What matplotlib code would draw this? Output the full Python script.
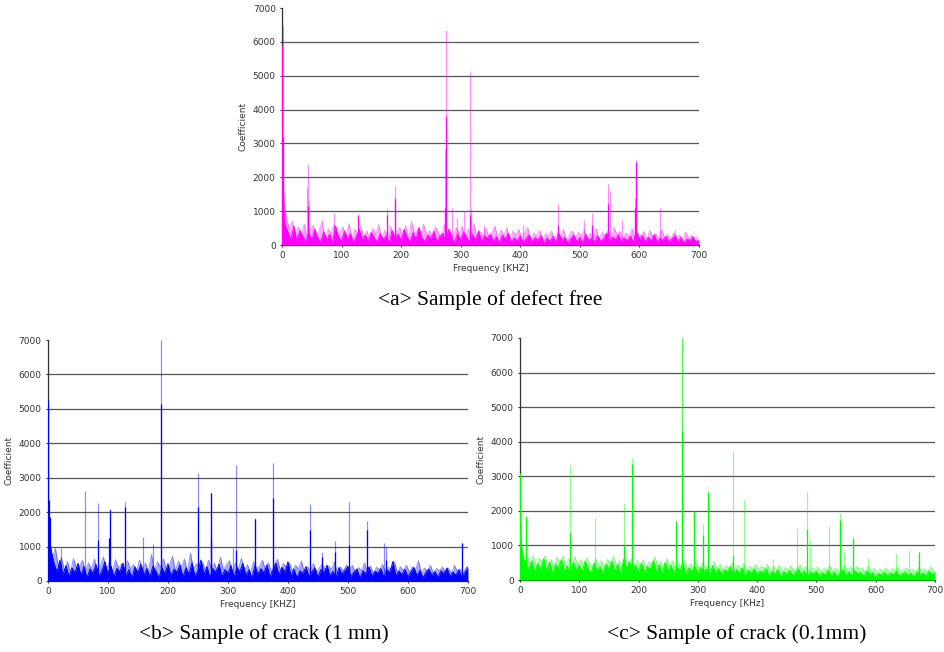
import numpy as np
import matplotlib.pyplot as plt

# sample grids (kHz): the dark trace and the pale trace are read at offset points
freq_dark = np.arange(0, 701, 5).astype(float)
freq_light = np.arange(2.5, 700, 5)

# <a> defect free
a_dark_noise = [1500, 620, 380, 150, 560, 120, 420, 260, 80, 350,
                140, 480, 210, 90, 390, 170, 310, 60, 560, 230,
                120, 410, 180, 330, 70, 260, 450, 150, 290, 110,
                380, 200, 90, 340, 160, 270, 60, 430, 190, 320,
                130, 460, 240, 80, 370, 150, 520, 210, 100, 300,
                180, 410, 90, 260, 350, 120, 470, 200, 80, 330,
                150, 380, 230, 70, 310, 140, 420, 90, 270, 190,
                320, 100, 240, 60, 290, 170, 350, 80, 210, 130,
                260, 70, 190, 300, 90, 220, 140, 280, 60, 200,
                110, 250, 80, 340, 150, 230, 70, 190, 290, 100,
                220, 60, 310, 140, 200, 90, 270, 120, 180, 350,
                90, 240, 150, 300, 70, 210, 130, 260, 80, 420,
                160, 280, 90, 230, 120, 310, 70, 200, 140, 250,
                80, 190, 270, 100, 220, 60, 180, 130, 240, 90,
                150]
a_light_noise = [1300, 820, 460, 700, 230, 540, 310, 620, 180, 450,
                 590, 260, 410, 720, 150, 480, 330, 600, 200, 390,
                 530, 240, 640, 180, 470, 310, 560, 220, 420, 150,
                 490, 300, 610, 170, 440, 250, 550, 180, 400, 520,
                 270, 580, 190, 700, 340, 460, 230, 620, 310, 420,
                 250, 540, 380, 160, 600, 290, 450, 210, 510, 330,
                 560, 200, 470, 320, 640, 180, 400, 270, 500, 230,
                 380, 560, 190, 440, 280, 520, 150, 410, 300, 460,
                 210, 380, 520, 160, 350, 270, 430, 190, 330, 250,
                 410, 170, 360, 240, 470, 150, 310, 420, 200, 380,
                 260, 450, 180, 340, 230, 490, 160, 370, 280, 430,
                 190, 520, 300, 410, 170, 360, 250, 480, 200, 350,
                 280, 400, 160, 430, 240, 330, 190, 450, 220, 310,
                 170, 360, 240, 300, 150, 380, 210, 290, 180, 260]
a_dark_peaks = {0: 5900, 1: 3200, 2: 1800, 44: 1150, 128: 900, 176: 900,
                190: 1350, 274: 1100, 275: 3800, 316: 900, 463: 600,
                520: 600, 548: 1200, 592: 1100, 594: 2450}
a_light_peaks = {0: 7000, 2: 6500, 4: 1500, 42: 1700, 43: 2400, 45: 1300,
                 87: 950, 128: 900, 176: 1100, 189: 1400, 190: 1750,
                 273: 2850, 275: 6350, 286: 1100, 294: 800, 305: 1000,
                 316: 5100, 318: 1050, 340: 600, 405: 600, 463: 1200,
                 507: 750, 520: 950, 548: 1800, 550: 1600, 570: 750,
                 592: 1400, 594: 2500, 635: 1100, 660: 450}

# <b> crack 1 mm
b_dark_noise = [1700, 900, 520, 260, 600, 180, 450, 120, 380, 240,
                510, 160, 420, 90, 350, 230, 480, 130, 300, 560,
                200, 440, 110, 370, 260, 520, 150, 330, 90, 410,
                240, 480, 170, 360, 120, 430, 280, 90, 390, 210,
                500, 150, 340, 260, 460, 110, 380, 200, 520, 140,
                300, 610, 180, 420, 90, 360, 250, 490, 130, 330,
                220, 450, 100, 380, 270, 510, 160, 320, 80, 440,
                190, 360, 230, 470, 120, 310, 520, 170, 400, 250,
                560, 140, 350, 90, 300, 210, 420, 130, 270, 380,
                110, 330, 240, 460, 150, 280, 90, 390, 200, 310,
                420, 130, 260, 350, 80, 300, 190, 410, 140, 280,
                230, 360, 100, 320, 250, 570, 140, 290, 180, 340,
                120, 270, 390, 150, 310, 90, 250, 350, 160, 280,
                100, 300, 210, 380, 130, 260, 170, 330, 90, 250,
                400]
b_light_noise = [1200, 700, 950, 420, 680, 300, 570, 250, 650, 380,
                 440, 600, 280, 530, 350, 640, 240, 470, 700, 320,
                 560, 290, 620, 380, 500, 230, 590, 340, 480, 270,
                 610, 350, 520, 260, 780, 300, 560, 400, 650, 330,
                 460, 720, 300, 580, 400, 640, 270, 820, 350, 500,
                 380, 560, 290, 610, 340, 520, 260, 700, 310, 480,
                 590, 270, 530, 360, 660, 300, 480, 240, 560, 380,
                 420, 610, 330, 540, 260, 480, 630, 300, 510, 390,
                 530, 280, 460, 350, 590, 230, 420, 300, 510, 270,
                 380, 500, 260, 440, 330, 560, 240, 410, 300, 470,
                 350, 460, 230, 390, 310, 520, 260, 440, 220, 400,
                 330, 480, 270, 400, 350, 560, 230, 420, 300, 460,
                 260, 420, 320, 590, 230, 380, 290, 460, 210, 360,
                 300, 410, 250, 380, 220, 460, 270, 340, 230, 420]
b_dark_peaks = {0: 5250, 2: 2350, 3: 1850, 84: 1200, 102: 1250, 104: 2050,
                128: 2150, 188: 5150, 250: 2150, 271: 2550, 272: 1250,
                314: 900, 345: 1800, 375: 2400, 436: 1480, 457: 700,
                479: 850, 502: 1050, 532: 1480, 563: 600, 690: 1100}
b_light_peaks = {0: 7000, 22: 950, 62: 2600, 84: 2280, 104: 2080, 128: 2300,
                 158: 1280, 175: 1080, 188: 7000, 250: 3150, 271: 2550,
                 309: 950, 314: 3380, 345: 1820, 375: 3430, 436: 2230,
                 457: 850, 479: 1150, 502: 2300, 532: 1750, 560: 1100,
                 563: 1000, 690: 1100}

# <c> crack 0.1 mm
c_dark_noise = [1200, 700, 420, 300, 560, 220, 480, 310, 620, 260,
                520, 180, 450, 330, 590, 240, 400, 160, 510, 290,
                430, 230, 550, 310, 200, 480, 260, 390, 180, 460,
                320, 540, 240, 450, 190, 600, 350, 520, 280, 430,
                250, 480, 210, 390, 300, 560, 230, 440, 170, 510,
                280, 420, 190, 380, 260, 460, 150, 350, 230, 400,
                170, 360, 250, 310, 120, 420, 200, 330, 160, 290,
                230, 380, 140, 310, 200, 350, 110, 280, 190, 320,
                150, 260, 200, 330, 120, 250, 180, 300, 100, 240,
                170, 280, 120, 230, 310, 150, 260, 110, 220, 180,
                250, 100, 210, 160, 280, 130, 230, 90, 200, 300,
                140, 240, 110, 270, 180, 220, 90, 260, 150, 210,
                80, 190, 140, 230, 100, 200, 160, 250, 110, 180,
                220, 130, 190, 90, 240, 150, 200, 110, 260, 160,
                230]
c_light_noise = [1000, 550, 680, 450, 720, 380, 640, 500, 700, 420,
                 600, 380, 660, 470, 710, 400, 620, 350, 680, 450,
                 590, 400, 650, 470, 380, 620, 420, 560, 360, 600,
                 480, 680, 420, 560, 350, 650, 500, 610, 430, 570,
                 420, 600, 360, 520, 450, 680, 400, 560, 330, 620,
                 430, 560, 340, 500, 390, 580, 300, 480, 360, 520,
                 320, 500, 380, 450, 280, 540, 340, 460, 300, 420,
                 360, 500, 290, 440, 330, 480, 260, 410, 320, 450,
                 290, 400, 330, 460, 250, 390, 310, 430, 240, 370,
                 300, 420, 250, 360, 440, 280, 390, 240, 350, 310,
                 380, 240, 340, 290, 420, 260, 360, 220, 330, 430,
                 270, 380, 240, 400, 310, 350, 220, 390, 280, 340,
                 210, 320, 270, 360, 230, 330, 290, 380, 240, 310,
                 340, 260, 320, 220, 370, 280, 330, 240, 380, 290]
c_dark_peaks = {0: 3100, 1: 1200, 11: 1850, 85: 1350, 175: 1000, 189: 3350,
                263: 1700, 273: 4300, 293: 2000, 308: 1300, 317: 2550,
                360: 700, 485: 1480, 540: 1750, 562: 1220, 673: 800}
c_light_peaks = {0: 7000, 2: 1700, 11: 1850, 85: 3330, 127: 1780, 175: 2220,
                 189: 3540, 263: 1700, 273: 7000, 274: 7000, 293: 2000,
                 309: 1620, 317: 2550, 318: 1400, 360: 3730, 378: 2320,
                 427: 600, 468: 1500, 485: 2560, 490: 1150, 521: 1550,
                 540: 1950, 547: 850, 562: 1220, 587: 650, 635: 780,
                 656: 870, 673: 800}


def draw(ax, color, dark, light, xlabel):
    (dn, dp), (ln, lp) = dark, light
    # pale trace behind, saturated trace in front; peaks as thin spikes
    ax.fill_between(freq_light, 0, ln, color=color, alpha=0.35, lw=0, zorder=2)
    ax.plot(freq_light, ln, color=color, lw=0.6, alpha=0.45, zorder=2)
    ax.vlines(list(lp), 0, list(lp.values()), color=color, lw=0.9, alpha=0.45, zorder=2)
    ax.fill_between(freq_dark, 0, dn, color=color, lw=0, zorder=3)
    ax.plot(freq_dark, dn, color=color, lw=0.7, zorder=3)
    ax.vlines(list(dp), 0, list(dp.values()), color=color, lw=0.9, zorder=3)
    ax.set_xlim(0, 700)
    ax.set_ylim(0, 7000)
    ax.set_xticks(range(0, 701, 100))
    ax.set_yticks(range(0, 7001, 1000))
    ax.yaxis.grid(True, color='#555555', lw=0.9)
    ax.set_axisbelow(True)
    ax.get_ygridlines()[-1].set_visible(False)
    for s in ['top', 'right']:
        ax.spines[s].set_visible(False)
    for s in ['left', 'bottom']:
        ax.spines[s].set_color('#333333')
        ax.spines[s].set_linewidth(0.9)
    ax.tick_params(labelsize=6.5, length=1.5, colors='#333333', pad=3)
    ax.set_xlabel(xlabel, fontsize=6.5, color='#333333', labelpad=3)
    ax.set_ylabel('Coefficient', fontsize=6.5, color='#333333', labelpad=4)


fig = plt.figure(figsize=(9.44, 6.52), dpi=100)
ax_a = fig.add_axes([0.2987, 0.6242, 0.4417, 0.3635])
ax_b = fig.add_axes([0.0508, 0.1089, 0.4449, 0.3696])
ax_c = fig.add_axes([0.5508, 0.1104, 0.4396, 0.3712])

draw(ax_a, '#ff00ff', (a_dark_noise, a_dark_peaks), (a_light_noise, a_light_peaks), 'Frequency [KHZ]')
draw(ax_b, '#0000ff', (b_dark_noise, b_dark_peaks), (b_light_noise, b_light_peaks), 'Frequency [KHZ]')
draw(ax_c, '#00ff00', (c_dark_noise, c_dark_peaks), (c_light_noise, c_light_peaks), 'Frequency [KHz]')

cap = dict(ha='center', va='center', family='Liberation Serif', fontsize=15.5)
fig.text(490 / 944, 1 - 300 / 652, '<a> Sample of defect free', **cap)
fig.text(264 / 944, 1 - 634 / 652, '<b> Sample of crack (1 mm)', **cap)
fig.text(737 / 944, 1 - 634 / 652, '<c> Sample of crack (0.1mm)', **cap)

fig.savefig('out.png', dpi=100)
